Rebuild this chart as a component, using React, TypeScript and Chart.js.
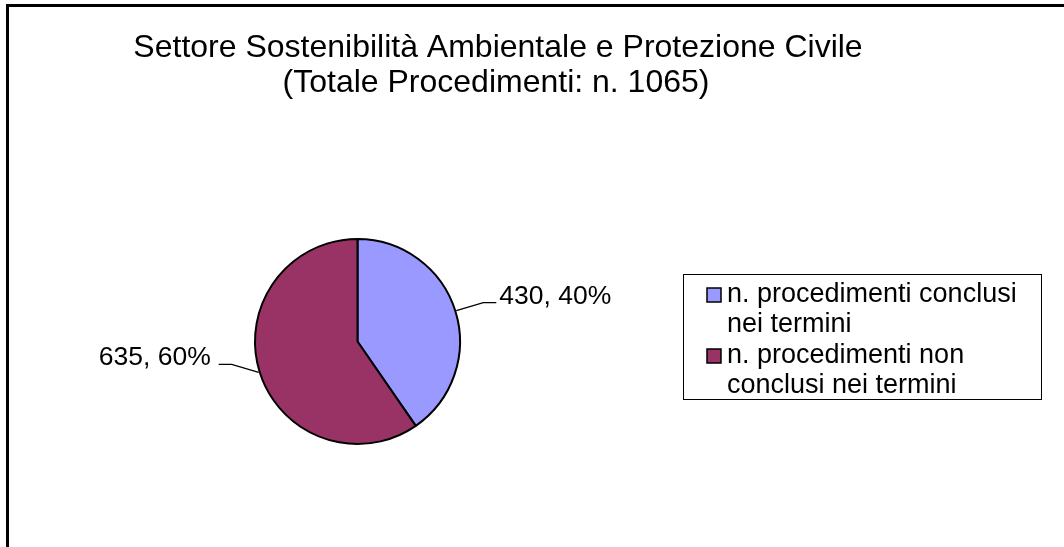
import React, { useEffect, useRef } from "react";
import { Chart, registerables } from "chart.js";

Chart.register(...registerables);

const titleLines = [
  "Settore Sostenibilità Ambientale e Protezione Civile",
  "(Totale Procedimenti: n. 1065)",
];
const categories = [
  "n. procedimenti conclusi nei termini",
  "n. procedimenti non conclusi nei termini",
];
const legendLines = [
  ["n. procedimenti conclusi", "nei termini"],
  ["n. procedimenti non", "conclusi nei termini"],
];
const values = [430, 635];
const colors = ["#9999FF", "#993366"];

const FONT = '"Liberation Sans", Arial, sans-serif';

const decorPlugin = {
  id: "decor",
  beforeDraw(chart: any) {
    const ctx = chart.ctx as CanvasRenderingContext2D;
    ctx.save();
    ctx.fillStyle = "#ffffff";
    ctx.fillRect(0, 0, chart.width, chart.height);
    // frame
    ctx.fillStyle = "#000000";
    ctx.fillRect(6, 4, chart.width - 6, 3);
    ctx.fillRect(6, 4, 3, chart.height - 4);
    // title
    ctx.font = `32px ${FONT}`;
    ctx.textAlign = "center";
    ctx.textBaseline = "alphabetic";
    ctx.fillText(titleLines[0], 498, 57);
    ctx.fillText(titleLines[1], 496, 92);
    // legend
    ctx.strokeStyle = "#000000";
    ctx.lineWidth = 1;
    ctx.strokeRect(683.5, 274.5, 358, 125);
    ctx.font = `27px ${FONT}`;
    ctx.textAlign = "left";
    const starts = [302, 363];
    legendLines.forEach((lines, i) => {
      const base = starts[i];
      ctx.fillStyle = colors[i];
      ctx.fillRect(707, base - 14, 14, 14);
      ctx.strokeStyle = "#000000";
      ctx.lineWidth = 1.5;
      ctx.strokeRect(707, base - 14, 14, 14);
      ctx.fillStyle = "#000000";
      lines.forEach((ln, j) => {
        ctx.fillText(ln, 727, base + j * 30);
      });
    });
    ctx.restore();
  },
  afterDatasetsDraw(chart: any) {
    const ctx = chart.ctx as CanvasRenderingContext2D;
    const meta = chart.getDatasetMeta(0);
    const total = values.reduce((a, b) => a + b, 0);
    ctx.save();
    ctx.font = `26.5px ${FONT}`;
    ctx.strokeStyle = "#000000";
    ctx.fillStyle = "#000000";
    ctx.lineWidth = 1.2;
    meta.data.forEach((arc: any, i: number) => {
      const p = arc.getProps(["x", "y", "startAngle", "endAngle", "outerRadius"], true);
      const mid = (p.startAngle + p.endAngle) / 2;
      const ex = p.x + Math.cos(mid) * (p.outerRadius + 1);
      const ey = p.y + Math.sin(mid) * (p.outerRadius + 1);
      const right = Math.cos(mid) >= 0;
      const dir = right ? 1 : -1;
      const bx = ex + dir * 27;
      const by = ey - 8;
      const fx = bx + dir * 13;
      ctx.beginPath();
      ctx.moveTo(ex, ey);
      ctx.lineTo(bx, by);
      ctx.lineTo(fx, by);
      ctx.stroke();
      const pct = Math.round((values[i] / total) * 100);
      const txt = `${values[i]}, ${pct}%`;
      ctx.textBaseline = "alphabetic";
      ctx.textAlign = right ? "left" : "right";
      ctx.fillText(txt, fx + dir * (right ? 3 : 8), by + 1);
    });
    ctx.restore();
  },
};

export default function App() {
  const ref = useRef<HTMLCanvasElement | null>(null);
  useEffect(() => {
    if (!ref.current) return;
    const chart = new Chart(ref.current, {
      type: "pie",
      data: {
        labels: categories,
        datasets: [
          {
            data: values,
            backgroundColor: colors,
            borderColor: "#000000",
            borderWidth: 2,
            radius: 102.5,
          } as any,
        ],
      },
      options: {
        responsive: false,
        animation: false,
        layout: { padding: { left: 0, right: 349, top: 200, bottom: 64 } },
        plugins: {
          legend: { display: false },
          title: { display: false },
          tooltip: { enabled: false },
        },
      },
      plugins: [decorPlugin],
    });
    return () => chart.destroy();
  }, []);
  return (
    <div style={{ position: "absolute", left: 0, top: 0, width: 1064, height: 547 }}>
      <canvas ref={ref} width={1064} height={547} style={{ width: 1064, height: 547, display: "block" }} />
    </div>
  );
}
